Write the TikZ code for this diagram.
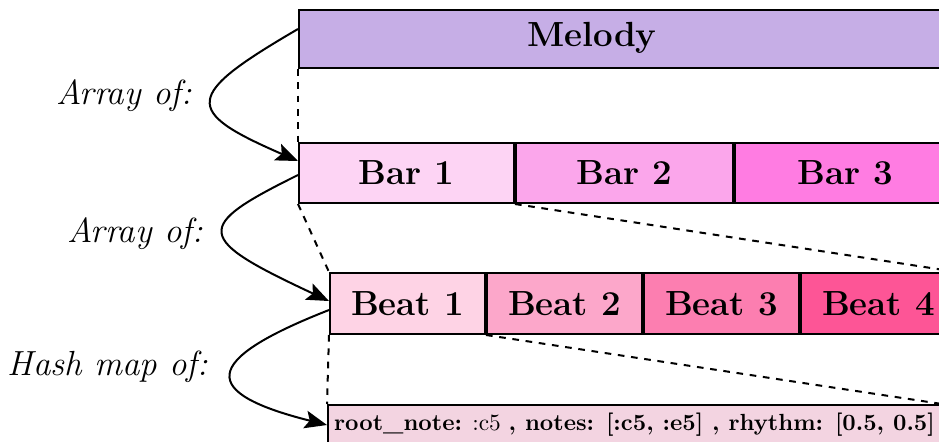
\documentclass[tikz,border=0pt]{standalone}
\usetikzlibrary{arrows.meta}
\def\u{0.45pt}
\definecolor{melodycol}{RGB}{198,174,230}
\definecolor{barA}{RGB}{253,212,244}
\definecolor{barB}{RGB}{251,166,235}
\definecolor{barC}{RGB}{255,124,226}
\definecolor{beatA}{RGB}{254,211,229}
\definecolor{beatB}{RGB}{252,167,202}
\definecolor{beatC}{RGB}{252,126,176}
\definecolor{beatD}{RGB}{253,85,150}
\definecolor{hashcol}{RGB}{243,212,225}
\newcommand\bigsize{\fontsize{15.7}{19}\selectfont}
\newcommand\hashsize{\fontsize{10.5}{13}\selectfont}
\begin{document}
\begin{tikzpicture}[x=0.45pt, y=-0.45pt,
  cell/.style={draw, line width=0.9pt, rectangle, inner sep=0pt,
    font=\bigsize\bfseries, anchor=north west},
  barcell/.style={cell, minimum height=60*\u},
  beatcell/.style={cell, minimum height=61*\u, minimum width=155*\u},
  guide/.style={dashed, line width=0.9pt},
  nest/.style={line width=0.9pt, -{Stealth[length=10pt, width=8pt, inset=2pt]}},
  kind/.style={font=\bigsize\itshape, anchor=base east, inner sep=0pt}]
\useasboundingbox (0,0) rectangle (939,441);
\clip (0,0) rectangle (939,441);

% top level
\node[cell, fill=melodycol, minimum width=700*\u, minimum height=58*\u] (melody) at (298,9) {};
\node[font=\bigsize\bfseries] (melodytext) at (592,38) {Melody};

% bars
\node[barcell, fill=barA, minimum width=215*\u] (bar1) at (298,142) {Bar 1};
\node[barcell, fill=barB, minimum width=217*\u] (bar2) at (bar1.north east) {Bar 2};
\node[barcell, fill=barC, minimum width=220*\u] (bar3) at (bar2.north east) {Bar 3};

% beats
\node[beatcell, fill=beatA] (beat1) at (329,272) {Beat 1};
\node[beatcell, fill=beatB] (beat2) at (beat1.north east) {Beat 2};
\node[beatcell, fill=beatC] (beat3) at (beat2.north east) {Beat 3};
\node[beatcell, fill=beatD] (beat4) at (beat3.north east) {Beat 4};

% note hash
\node[cell, fill=hashcol, font=\hashsize, minimum width=613*\u, minimum height=40*\u] (hash) at (327,404)
  {\textbf{root\_note:} :c5 \textbf{, notes: [:c5, :e5] , rhythm: [0.5, 0.5]}};

% zoom guides
\draw[guide] (melody.south west) -- (bar1.north west);
\draw[guide] (bar1.south west) -- (beat1.north west);
\draw[guide] (bar1.south east) -- (beat4.north east);
\draw[guide] (beat1.south west) -- (hash.north west);
\draw[guide] (beat1.south east) -- (hash.north east);

% nesting arrows
\draw[nest] ([yshift=10*\u]melody.west) .. controls +(-115,67) and +(-115,-50) .. ([yshift=12*\u]bar1.west);
\draw[nest] ([yshift=-2*\u]bar1.west) .. controls +(-105,52) and +(-135,-63) .. ([yshift=2.5*\u]beat1.west);
\draw[nest] ([yshift=-6.5*\u]beat1.west) .. controls +(-130,51) and +(-127,-32) .. (hash.west);

% labels
\node[kind] (lab1) at (192,104) {Array of:};
\node[kind] (lab2) at (203,242) {Array of:};
\node[kind] (lab3) at (208,375) {Hash map of:};
\end{tikzpicture}
\end{document}
